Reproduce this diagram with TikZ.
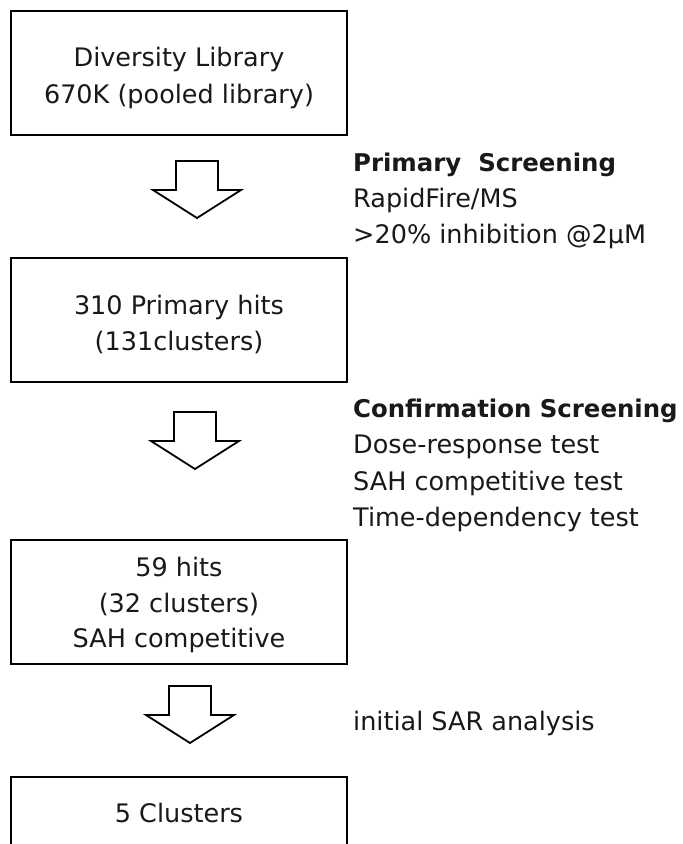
\documentclass[tikz,border=0pt]{standalone}
\usepackage{fontspec}
\setmainfont{DejaVu Sans}
\begin{document}
\begin{tikzpicture}[x=1pt,y=-1pt,
  box/.style={draw=black, line width=1.8pt, minimum width=336pt, minimum height=124pt, inner sep=0pt},
  lbl/.style={anchor=base, inner sep=0pt, font=\fontsize{25.5}{37}\selectfont, text=black!90},
  side/.style={anchor=base west, inner sep=0pt, font=\fontsize{25.5}{37}\selectfont, text=black!90},
  sidehead/.style={side, font=\fontsize{24.4}{37}\selectfont\bfseries},
  arr/.style={draw=black, line width=1.8pt, fill=white, line join=miter},
  pics/downarrow/.style={code={
    \draw[arr] (-21,0) -- (21,0) -- (21,29) -- (44,29) -- (0,57) -- (-44,29) -- (-21,29) -- cycle;
  }}]
\path[use as bounding box] (0,0) rectangle (683,844);
\clip (0,0) rectangle (683,844);
\fill[white] (0,0) rectangle (683,844);

% boxes
\node[box] (b1) at (179,73) {};
\node[box] (b2) at (179,320) {};
\node[box] (b3) at (179,602) {};
\node[box, anchor=north] (b4) at (179,776) {};

% box texts
\node[lbl] (t1a) at (179,66) {Diversity Library};
\node[lbl] (t1b) at (179,103) {670K (pooled library)};
\node[lbl] (t2a) at (179,314) {310 Primary hits};
\node[lbl] (t2b) at (179,350) {(131clusters)};
\node[lbl] (t3a) at (179,576) {59 hits};
\node[lbl] (t3b) at (179,612) {(32 clusters)};
\node[lbl] (t3c) at (179,647) {SAH competitive};
\node[lbl] (t4a) at (179,822) {5 Clusters};

% block arrows
\pic at (197,161) {downarrow};
\pic at (195,412) {downarrow};
\pic at (190,686) {downarrow};

% side texts
\node[sidehead] (s1a) at (353,171) {Primary\ \ Screening};
\node[side] (s1b) at (353,207) {RapidFire/MS};
\node[side] (s1c) at (353,243) {>20\% inhibition @2µM};

\node[sidehead] (s2a) at (353,417) {Confirmation Screening};
\node[side] (s2b) at (353,453) {Dose-response test};
\node[side] (s2c) at (353,490) {SAH competitive test};
\node[side] (s2d) at (353,526) {Time-dependency test};

\node[side] (s3a) at (353,730) {initial SAR analysis};
\end{tikzpicture}
\end{document}
